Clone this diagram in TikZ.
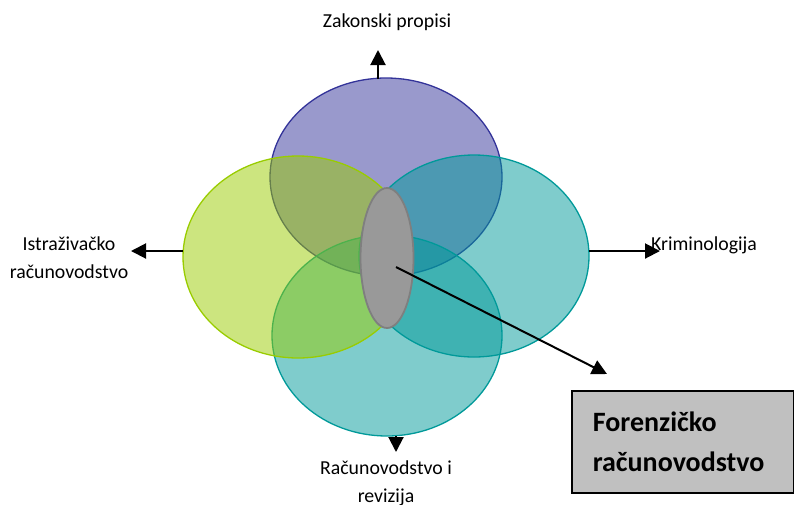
\documentclass[tikz,border=0pt]{standalone}
\usepackage{fontspec}
\setmainfont{Carlito}
\usetikzlibrary{shapes.geometric,arrows.meta}
\definecolor{cPurple}{HTML}{333399}
\definecolor{cGreen}{HTML}{99CC00}
\definecolor{cTeal}{HTML}{009999}
\definecolor{cGrayFill}{HTML}{999999}
\definecolor{cGrayLine}{HTML}{7F7F7F}
\definecolor{cBox}{HTML}{C0C0C0}
\tikzset{
  venn/.style={ellipse, inner sep=0pt, outer sep=0pt, line width=1.3pt, fill opacity=0.5},
  arr/.style={line width=2pt, -{Triangle[length=15pt,width=15pt]}},
  lbl/.style={inner sep=0pt, font=\fontsize{19.8}{28}\selectfont},
  fbox/.style={draw=black, line width=1.6pt, fill=cBox, inner xsep=21pt, inner ysep=0pt,
    font=\fontsize{28}{40}\selectfont\bfseries, align=left}
}
\begin{document}
\begin{tikzpicture}[x=1pt,y=-1pt]
\useasboundingbox (0,0) rectangle (794,504);
% ellipses
\node[venn, draw=cPurple, fill=cPurple, minimum width=232pt, minimum height=198pt] (topE) at (386,177) {};
\node[venn, draw=cTeal, fill=cTeal, minimum width=230pt, minimum height=201pt] (botE) at (387,335.5) {};
\node[venn, draw=cTeal, fill=cTeal, minimum width=230pt, minimum height=202pt] (rightE) at (474,256) {};
\node[venn, draw=cGreen, fill=cGreen, minimum width=230pt, minimum height=202pt] (leftE) at (298,257) {};
\node[ellipse, inner sep=0pt, draw=cGrayLine, fill=cGrayFill, line width=1.8pt, minimum width=53pt, minimum height=140pt] (grayE) at (387,258) {};
% arrow coordinates
\coordinate (topS) at (378,79);
\coordinate (topT) at (378,50);
\coordinate (leftS) at (183,251);
\coordinate (leftT) at (131,251);
\coordinate (rightS) at (589,251);
\coordinate (rightT) at (660,251);
\coordinate (botS) at (396,436);
\coordinate (botT) at (396,452);
\coordinate (fS) at (396,267);
\coordinate (fT) at (607,374);
\draw[arr] (topS) -- (topT);
\draw[arr] (leftS) -- (leftT);
\draw[arr] (rightS) -- (rightT);
\draw[arr] (botS) -- (botT);
\draw[arr] (fS) -- (fT);
% labels
\node[lbl, anchor=base] (zak) at (387,27) {Zakonski propisi};
\node[lbl, anchor=base, align=center] (istr) at (69,278) {Istraživačko\\računovodstvo};
\node[lbl, anchor=base west] (krim) at (651,250) {Kriminologija};
\node[lbl, anchor=base, align=center] (racun) at (386,502) {Računovodstvo i\\revizija};
% box
\node[fbox, anchor=north west, text width=180pt, minimum height=102pt] (forenz) at (571,390) {Forenzičko\\računovodstvo};
\end{tikzpicture}
\end{document}
